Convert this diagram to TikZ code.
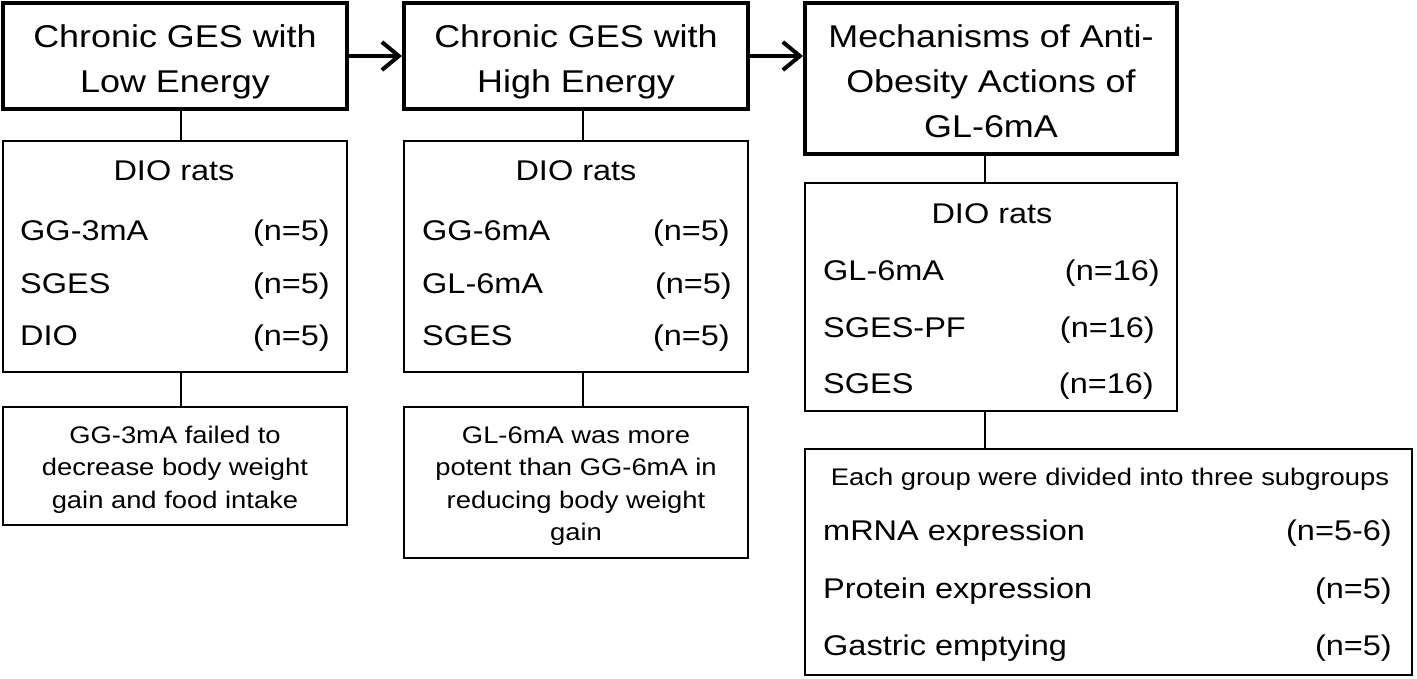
\documentclass[tikz,border=0pt]{standalone}
\usepackage{fontspec}
\setmainfont[FakeStretch=1.14]{Liberation Sans}
\usetikzlibrary{arrows.meta}
\begin{document}
\begin{tikzpicture}[x=1pt,y=-1pt,
  headbox/.style={draw, line width=4pt, inner sep=0pt},
  subbox/.style={draw, line width=2pt, inner sep=0pt},
  headtxt/.style={inner sep=0pt, anchor=base, font=\fontsize{31.5}{38}\selectfont},
  bodytxt/.style={inner sep=0pt, font=\fontsize{28.5}{34}\selectfont},
  restxt/.style={inner sep=0pt, anchor=base, font=\fontsize{24}{30}\selectfont},
  link/.style={line width=1.5pt},
  flow/.style={line width=4pt, -{Straight Barb[length=17pt,width=28pt]}}
]
\useasboundingbox (0,0) rectangle (1417,678);

% header boxes
\node[headbox, minimum width=344pt, minimum height=106pt] (h1) at (175,56) {};
\node[headbox, minimum width=344pt, minimum height=106pt] (h2) at (576,56) {};
\node[headbox, minimum width=372pt, minimum height=151pt] (h3) at (991,78.5) {};

\node[headtxt] (h1a) at (175,47) {Chronic GES with};
\node[headtxt] (h1b) at (175,92) {Low Energy};
\node[headtxt] (h2a) at (576,47) {Chronic GES with};
\node[headtxt] (h2b) at (576,92) {High Energy};
\node[headtxt] (h3a) at (991,47) {Mechanisms of Anti-};
\node[headtxt] (h3b) at (991,92) {Obesity Actions of};
\node[headtxt] (h3c) at (991,137) {GL-6mA};

\draw[flow] (h1.east) -- (h2.west);
\draw[flow] (h1.east -| h2.east) -- (h1.east -| h3.west);

% group boxes
\node[subbox, minimum width=344pt, minimum height=231pt] (g1) at (175,256) {};
\node[subbox, minimum width=344pt, minimum height=231pt] (g2) at (576,256) {};
\node[subbox, minimum width=372pt, minimum height=228pt] (g3) at (991,296.5) {};

% result boxes
\node[subbox, minimum width=344pt, minimum height=118pt] (r1) at (175,465.5) {};
\node[subbox, minimum width=344pt, minimum height=151pt] (r2) at (576,482) {};
\node[subbox, minimum width=607pt, minimum height=226pt] (r3) at (1108.5,561.5) {};

% connectors
\coordinate (x1) at (181,0);
\coordinate (x2) at (583,0);
\coordinate (x3) at (985,0);
\draw[link] (h1.south -| x1) -- (g1.north -| x1);
\draw[link] (g1.south -| x1) -- (r1.north -| x1);
\draw[link] (h2.south -| x2) -- (g2.north -| x2);
\draw[link] (g2.south -| x2) -- (r2.north -| x2);
\draw[link] (h3.south -| x3) -- (g3.north -| x3);
\draw[link] (g3.south -| x3) -- (r3.north -| x3);

% group 1
\node[bodytxt, anchor=base] (g1t) at (174,180) {DIO rats};
\node[bodytxt, anchor=base west] (g1a) at (20,240) {GG-3mA};
\node[bodytxt, anchor=base east] (g1an) at (330,240) {(n=5)};
\node[bodytxt, anchor=base west] (g1b) at (20,293) {SGES};
\node[bodytxt, anchor=base east] (g1bn) at (330,293) {(n=5)};
\node[bodytxt, anchor=base west] (g1c) at (20,345) {DIO};
\node[bodytxt, anchor=base east] (g1cn) at (330,345) {(n=5)};

% group 2
\node[bodytxt, anchor=base] (g2t) at (576,180) {DIO rats};
\node[bodytxt, anchor=base west] (g2a) at (422,240) {GG-6mA};
\node[bodytxt, anchor=base east] (g2an) at (730,240) {(n=5)};
\node[bodytxt, anchor=base west] (g2b) at (422,293) {GL-6mA};
\node[bodytxt, anchor=base east] (g2bn) at (732,293) {(n=5)};
\node[bodytxt, anchor=base west] (g2c) at (422,345) {SGES};
\node[bodytxt, anchor=base east] (g2cn) at (730,345) {(n=5)};

% group 3
\node[bodytxt, anchor=base] (g3t) at (992,223) {DIO rats};
\node[bodytxt, anchor=base west] (g3a) at (823,280) {GL-6mA};
\node[bodytxt, anchor=base east] (g3an) at (1160,280) {(n=16)};
\node[bodytxt, anchor=base west] (g3b) at (823,337) {SGES-PF};
\node[bodytxt, anchor=base east] (g3bn) at (1155,337) {(n=16)};
\node[bodytxt, anchor=base west] (g3c) at (823,393) {SGES};
\node[bodytxt, anchor=base east] (g3cn) at (1154,393) {(n=16)};

% results
\node[restxt] (r1a) at (175,443) {GG-3mA failed to};
\node[restxt] (r1b) at (175,475.5) {decrease body weight};
\node[restxt] (r1c) at (175,508) {gain and food intake};

\node[restxt] (r2a) at (576,443) {GL-6mA was more};
\node[restxt] (r2b) at (576,475.5) {potent than GG-6mA in};
\node[restxt] (r2c) at (576,508) {reducing body weight};
\node[restxt] (r2d) at (576,540.5) {gain};

\node[restxt] (r3t) at (1110,485) {Each group were divided into three subgroups};
\node[bodytxt, anchor=base west] (r3a) at (823,540) {mRNA expression};
\node[bodytxt, anchor=base east] (r3an) at (1392,540) {(n=5-6)};
\node[bodytxt, anchor=base west] (r3b) at (823,598) {Protein expression};
\node[bodytxt, anchor=base east] (r3bn) at (1392,598) {(n=5)};
\node[bodytxt, anchor=base west] (r3c) at (823,655) {Gastric emptying};
\node[bodytxt, anchor=base east] (r3cn) at (1392,655) {(n=5)};
\end{tikzpicture}
\end{document}
